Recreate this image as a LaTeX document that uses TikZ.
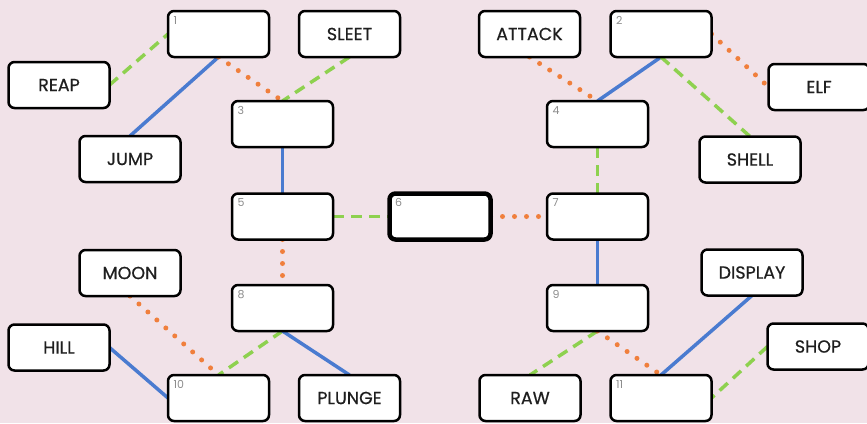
\documentclass[tikz,border=0pt]{standalone}
\usepackage{fontspec}
\setmainfont{Poppins}
\newfontfamily\lblfont[FakeBold=0.6]{Poppins}
\usetikzlibrary{backgrounds}
\definecolor{bgc}{HTML}{F1E2E8}
\definecolor{lblue}{HTML}{4A7BD0}
\definecolor{lgreen}{HTML}{8ED14F}
\definecolor{lorange}{HTML}{F07F3C}
\definecolor{numgray}{HTML}{8C8C8C}
\tikzset{
  box/.style={draw=black, fill=white, line width=2.5pt, rounded corners=6pt,
    minimum width=101pt, minimum height=46pt, inner sep=0pt, outer sep=0pt,
    font=\lblfont\fontsize{17.5}{20}\selectfont, text=black!88},
  keybox/.style={box, line width=4.5pt},
  numlbl/.style={anchor=north west, inner sep=0pt, text=numgray, font=\fontsize{11}{12}\selectfont},
  solidl/.style={lblue, line width=3.5pt},
  dashl/.style={lgreen, line width=3.5pt, dash pattern=on 11pt off 7pt},
  dotl/.style={lorange, line width=5pt, line cap=round, dash pattern=on 0pt off 12pt},
}
\begin{document}
\begin{tikzpicture}[x=1pt,y=-1pt]
\useasboundingbox (0,0) rectangle (867,423);
% numbered boxes
\node[box] (b1) at (218.5,34) {};
\node[box] (b2) at (661,34) {};
\node[box] (b3) at (282.5,124) {};
\node[box] (b4) at (597.5,124) {};
\node[box] (b5) at (282.5,216.5) {};
\node[keybox] (b6) at (440,216.5) {};
\node[box] (b7) at (597.5,216.5) {};
\node[box] (b8) at (282.5,308) {};
\node[box] (b9) at (597.5,308) {};
\node[box] (b10) at (218.5,398) {};
\node[box] (b11) at (661,398) {};
\foreach \n in {1,...,11} {
  \node[numlbl] (n\n) at ([xshift=5.5pt,yshift=-5pt]b\n.north west) {\n};
}
% word boxes
\node[box] (reap) at (59,85) {REAP};
\node[box] (jump) at (130,159) {JUMP};
\node[box] (sleet) at (349.5,34) {SLEET};
\node[box] (attack) at (529.5,34) {ATTACK};
\node[box] (elf) at (819,87) {ELF};
\node[box] (shell) at (750,159.5) {SHELL};
\node[box] (moon) at (130,273) {MOON};
\node[box] (hill) at (59,347.5) {HILL};
\node[box] (plunge) at (349.5,398) {PLUNGE};
\node[box] (raw) at (530,398) {RAW};
\node[box] (display) at (752,272.5) {DISPLAY};
\node[box] (shop) at (818,346.5) {SHOP};
\begin{scope}[on background layer]
\fill[bgc] (0,0) rectangle (867,423);
\draw[dashl] (reap.east) -- (b1.west);
\draw[solidl] (b1.south) -- (jump.north);
\draw[dotl] (b1.south) -- (b3.north);
\draw[dashl] (sleet.south) -- (b3.north);
\draw[solidl] (b3.south) -- (b5.north);
\draw[dashl] (b5.east) -- (b6.west);
\draw[dotl] (b5.south) -- (b8.north);
\draw[dotl] (b6.east) -- (b7.west);
\draw[dashl] (b7.north) -- (b4.south);
\draw[solidl] (b7.south) -- (b9.north);
\draw[solidl] (b4.north) -- (b2.south);
\draw[dotl] (attack.south) -- (b4.north);
\draw[dashl] (b2.south) -- (shell.north);
\draw[dotl] (b2.east) -- (elf.west);
\draw[dashl] (b8.south) -- (b10.north);
\draw[solidl] (b8.south) -- (plunge.north);
\draw[dotl] (moon.south) -- (b10.north);
\draw[solidl] (hill.east) -- (b10.west);
\draw[dashl] (b9.south) -- (raw.north);
\draw[dotl] (b9.south) -- (b11.north);
\draw[solidl] (display.south) -- (b11.north);
\draw[dashl] (shop.west) -- (b11.east);
\end{scope}
\end{tikzpicture}
\end{document}
